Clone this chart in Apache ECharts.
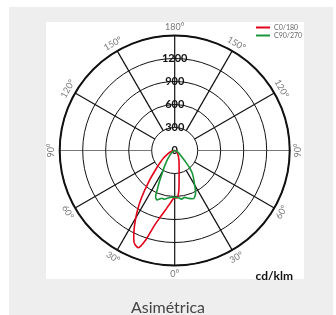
<!DOCTYPE html>
<html>
<head>
<meta charset="utf-8">
<script src="https://cdn.jsdelivr.net/npm/echarts@6/dist/echarts.min.js"></script>
<style>
  body { margin: 0; background: #fff; }
  #bg { position: absolute; left: 9px; top: 7px; width: 324px; height: 308px; background: #eeeeee; }
  #panel { position: absolute; left: 46px; top: 22px; width: 258px; height: 257px; background: #fff; }
  #chart { position: absolute; left: 0; top: 0; width: 336px; height: 315px; }
</style>
</head>
<body>
<div id="bg"></div>
<div id="panel"></div>
<div id="chart"></div>
<script>
// gamma in degrees measured from the downward vertical, values in cd/klm
const redC0Gamma = [0, 5, 9, 12, 15, 18, 20.5, 23, 25, 28, 31.5, 35, 40, 45, 50, 56, 65, 75, 90]
const redC0Vals = [615, 693, 790, 881, 1005, 1230, 1354, 1330, 1265, 1120, 940, 760, 520, 350, 250, 175, 95, 40, 0]
const redC180Gamma = [0, 2, 4, 6, 8, 10, 13, 17, 22, 30, 45, 60, 75, 90]
const redC180Vals = [615, 620, 600, 520, 410, 330, 255, 195, 150, 100, 50, 20, 8, 0]
const greenC90Gamma = [0, 4, 8, 12, 15, 18, 19.5, 21, 22.5, 24, 26, 28.5, 32, 38, 45, 55, 70, 90]
const greenC90Vals = [611, 612, 625, 650, 645, 670, 684, 675, 650, 560, 460, 350, 260, 160, 90, 45, 15, 0]
const greenC270Gamma = [0, 4, 8, 12, 16, 20, 22, 24, 26, 30, 34, 37.7, 41, 44, 50, 60, 75, 90]
const greenC270Vals = [611, 615, 640, 625, 650, 670, 672, 650, 622, 520, 440, 376, 290, 200, 110, 55, 15, 0]

const angleTicks = [0, 30, 60, 90, 120, 150, 180, 210, 240, 270, 300, 330]
const radiusMax = 1500
const labelRadius = 1610

const center = [174.7, 150.5]

// right half-plane: axis angle 180 - gamma, left half-plane: 180 + gamma
function curve(rightG, rightV, leftG, leftV) {
  const pts = []
  for (let i = rightG.length - 1; i >= 0; i--) {
    pts.push([rightV[i], 180 - rightG[i]])
  }
  for (let i = 1; i < leftG.length; i++) {
    pts.push([leftV[i], 180 + leftG[i]])
  }
  return pts
}

function labelRotate(v) {
  let r = ((-v % 180) + 180) % 180
  if (r > 90) r -= 180
  return r
}

const angleLabelData = angleTicks.map(function (v) {
  return {
    value: [labelRadius, v],
    name: Math.abs(180 - v) + '°',
    label: { rotate: labelRotate(v) }
  }
})

const chart = echarts.init(document.getElementById('chart'))
chart.setOption({
  backgroundColor: 'transparent',
  textStyle: { fontFamily: 'Lato' },
  title: [{
    text: 'cd/klm',
    right: 38,
    top: 265,
    textStyle: { fontSize: 12, fontWeight: 'bold', color: '#111', fontFamily: 'Lato' }
  }, {
    text: 'Asimétrica',
    left: 'center',
    top: 295,
    textStyle: { fontSize: 16, fontWeight: 'normal', color: '#444', fontFamily: 'Lato' }
  }],
  legend: {
    data: ['C0/180', 'C90/270'],
    orient: 'vertical',
    left: 256,
    top: 24,
    padding: 0,
    itemGap: 1,
    icon: 'rect',
    itemWidth: 14,
    itemHeight: 2,
    textStyle: { fontSize: 7, color: '#666', padding: [0, 0, 0, -1] }
  },
  polar: [
    { center: center, radius: 115 },
    { center: center, radius: [23, 115] }
  ],
  angleAxis: [{
    polarIndex: 0,
    type: 'value',
    min: 0,
    max: 360,
    startAngle: 90,
    clockwise: true,
    axisLine: { show: true, lineStyle: { color: '#111', width: 2 } },
    axisTick: { show: false },
    axisLabel: { show: false },
    splitLine: { show: false }
  }, {
    polarIndex: 1,
    type: 'value',
    min: 0,
    max: 360,
    interval: 30,
    startAngle: 90,
    clockwise: true,
    axisLine: { show: false },
    axisTick: { show: false },
    axisLabel: { show: false },
    splitLine: {
      show: true,
      lineStyle: {
        color: ['#111', '#111', '#111', '#777', '#111', '#111', '#111', '#111', '#111', '#777', '#111', '#111'],
        width: 1.2
      }
    }
  }],
  radiusAxis: [{
    polarIndex: 0,
    min: 0,
    max: radiusMax,
    interval: 300,
    axisLine: { show: false },
    axisTick: { show: false },
    splitLine: { show: true, lineStyle: { color: '#111', width: 1 } },
    axisLabel: {
      margin: 0,
      align: 'center',
      verticalAlign: 'middle',
      fontSize: 11,
      fontWeight: 'bold',
      color: '#111',
      formatter: function (v) { return v === radiusMax ? '' : String(v) }
    },
    z: 5
  }, {
    polarIndex: 1,
    min: 0,
    max: radiusMax,
    show: false
  }],
  series: [{
    name: 'C0/180',
    type: 'line',
    coordinateSystem: 'polar',
    polarIndex: 0,
    smooth: 0.25,
    showSymbol: false,
    lineStyle: { color: '#e2001a', width: 1.6 },
    itemStyle: { color: '#e2001a' },
    data: curve(redC180Gamma, redC180Vals, redC0Gamma, redC0Vals),
    z: 6
  }, {
    name: 'C90/270',
    type: 'line',
    coordinateSystem: 'polar',
    polarIndex: 0,
    smooth: 0.25,
    showSymbol: false,
    lineStyle: { color: '#18963a', width: 1.6 },
    itemStyle: { color: '#18963a' },
    data: curve(greenC270Gamma, greenC270Vals, greenC90Gamma, greenC90Vals),
    z: 6
  }, {
    name: 'angleLabels',
    type: 'scatter',
    coordinateSystem: 'polar',
    polarIndex: 0,
    clip: false,
    symbolSize: 1,
    itemStyle: { color: 'rgba(0,0,0,0)' },
    silent: true,
    label: {
      show: true,
      position: 'inside',
      formatter: '{b}',
      fontSize: 9,
      color: '#555'
    },
    data: angleLabelData
  }]
})
</script>
</body>
</html>
